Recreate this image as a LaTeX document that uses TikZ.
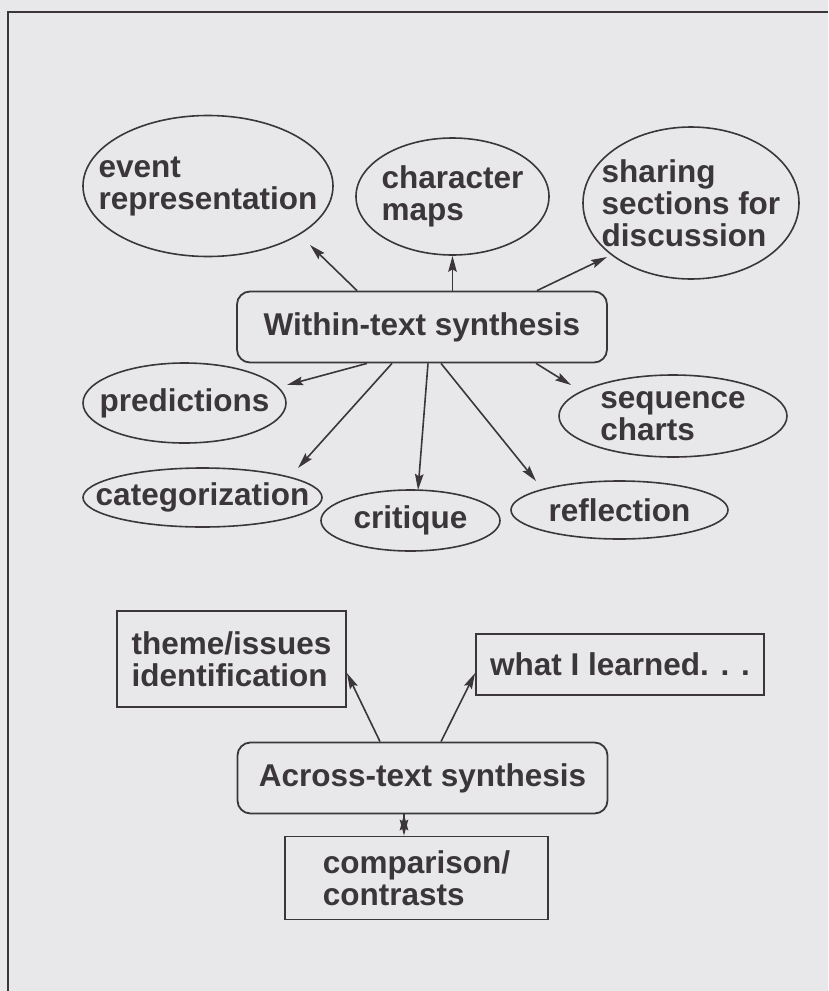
\documentclass[tikz,border=0pt]{standalone}
\usepackage{fontspec}
\setmainfont{Liberation Sans}
\usetikzlibrary{shapes.geometric, positioning, arrows.meta}
\definecolor{paper}{RGB}{232,232,234}
\definecolor{ink}{RGB}{58,54,58}
\tikzset{
	->, % every connector is directed
	>={Stealth[length=16pt,width=8.5pt,inset=2.5pt]}, % narrow filled heads
	node distance=100pt, % centre to centre, for below of
	every node/.style={font=\bfseries\fontsize{31.5}{32}\selectfont, text=ink, align=left},
	bubble/.style={ellipse, draw=ink, line width=1.6pt, inner sep=-100pt}, % size set by minimum width/height only
	synth/.style={rectangle, rounded corners=13pt, draw=ink, line width=1.8pt, minimum width=370pt, minimum height=71pt},
	panel/.style={rectangle, draw=ink, line width=1.8pt},
}

\begin{document}
\begin{tikzpicture}[x=1pt, y=-1pt]
	\path[use as bounding box, fill=paper] (0,0) rectangle (828,991);
	\draw[-, ink, line width=1.8pt] (8,991) -- (8,12) -- (828,12);
	% within-text group
	\node[synth] (within) at (422,327) {Within-text synthesis};
	\node[bubble, minimum width=250pt, minimum height=141pt] (event) at (208,186) {event\\representation};
	\node[bubble, minimum width=193pt, minimum height=117pt] (charmap) at (452.5,196.5) {character\\maps};
	\node[bubble, minimum width=216pt, minimum height=152pt] (sharing) at (691,203) {sharing\\sections for\\discussion};
	\node[bubble, minimum width=203pt, minimum height=80pt] (predict) at (184.5,403) {predictions};
	\node[bubble, minimum width=228pt, minimum height=82pt] (sequence) at (673,416) {sequence\\charts};
	\node[bubble, minimum width=239pt, minimum height=59pt] (categor) at (202.5,497.5) {categorization};
	\node[bubble, minimum width=179pt, minimum height=61pt] (critique) at (410.5,520.5) {critique};
	\node[bubble, minimum width=217pt, minimum height=58pt] (reflect) at (619.5,510) {reflection};
	% across-text group
	\node[synth] (across) at (422.5,778) {Across-text synthesis};
	\node[panel, minimum width=229pt, minimum height=96pt] (theme) at (231.5,659) {theme/issues\\identification};
	\node[panel, minimum width=288pt, minimum height=61pt] (learned) at (620,664.5) {what I learned. . .};
	\node[panel, minimum width=263pt, minimum height=83pt, below of=across, xshift=-6pt] (compare) {comparison/\\contrasts};
	\draw[ink, line width=1.6pt]
		([xshift=-65pt]within.north) edge ([shift={(102,59)}]event.center)
		([xshift=30.5pt]within.north) edge (charmap.south)
		([xshift=115pt]within.north) edge ([shift={(-84,54)}]sharing.center)
		([xshift=-55pt]within.south) edge ([shift={(102.5,-18)}]predict.center)
		([xshift=-30pt]within.south) edge ([shift={(95.5,-29.5)}]categor.center)
		([xshift=6pt]within.south) edge ([shift={(7.5,-30.5)}]critique.center)
		([xshift=19pt]within.south) edge ([shift={(-83.5,-29)}]reflect.center)
		([xshift=114pt]within.south) edge ([shift={(-102,-31)}]sequence.center)
		([xshift=-42.5pt]across.north) edge ([yshift=-14pt]theme.east)
		([xshift=18.5pt]across.north) edge ([yshift=-8.5pt]learned.west)
		([xshift=-18.5pt]across.south) edge ([xshift=-12.5pt]compare.north);
\end{tikzpicture}
\end{document}
